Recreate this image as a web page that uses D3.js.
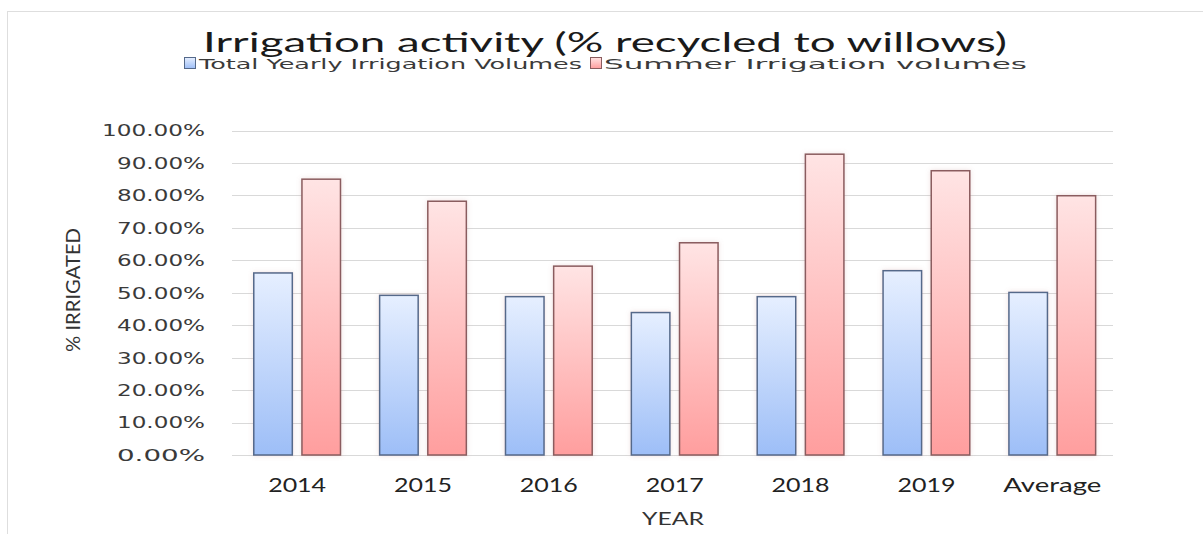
<!DOCTYPE html>
<html>
<head>
<meta charset="utf-8">
<script src="https://cdn.jsdelivr.net/npm/d3@7/dist/d3.min.js"></script>
<style>
  html, body { margin: 0; padding: 0; background: #ffffff; }
  svg { display: block; }
</style>
</head>
<body>
<svg id="chart" width="1203" height="534"></svg>
<script>
// Irrigation activity: share of volumes recycled to willows, per year
const categories = ["2014", "2015", "2016", "2017", "2018", "2019", "Average"];
const seriesNames = ["Total Yearly Irrigation Volumes", "Summer Irrigation volumes"];
const totalYearly = [0.561, 0.492, 0.488, 0.439, 0.488, 0.568, 0.501];
const summer = [0.850, 0.782, 0.582, 0.654, 0.927, 0.876, 0.799];
const yTicks = [0, 0.1, 0.2, 0.3, 0.4, 0.5, 0.6, 0.7, 0.8, 0.9, 1.0];

const seriesValues = [totalYearly, summer];
const svg = d3.select("#chart");

const plot = { left: 232, right: 1113, top: 130.5, bottom: 455 };

const x0 = d3.scaleBand().domain(categories).range([plot.left, plot.right]);
const C = x0.bandwidth();
const x1 = d3.scaleBand().domain(seriesNames)
  .range([0.173 * C, 0.862 * C]).paddingInner(0.2);
const y = d3.scaleLinear().domain([0, 1]).range([plot.bottom, plot.top]);

// gradients and soft glow
const defs = svg.append("defs");
const grads = [
  { id: "gBlue", top: "#e6efff", bottom: "#9dbef7", stroke: "#55698a" },
  { id: "gRed", top: "#ffe4e4", bottom: "#ff9e9e", stroke: "#8a5c5e" }
];
grads.forEach(g => {
  const lg = defs.append("linearGradient").attr("id", g.id)
    .attr("x1", 0).attr("y1", 0).attr("x2", 0).attr("y2", 1);
  lg.append("stop").attr("offset", "0%").attr("stop-color", g.top);
  lg.append("stop").attr("offset", "100%").attr("stop-color", g.bottom);
});
const glow = defs.append("filter").attr("id", "glow")
  .attr("x", "-30%").attr("y", "-10%").attr("width", "160%").attr("height", "120%");
glow.append("feGaussianBlur").attr("in", "SourceAlpha").attr("stdDeviation", 2.5).attr("result", "b");
glow.append("feFlood").attr("flood-color", "#c08080").attr("flood-opacity", 0.25);
glow.append("feComposite").attr("in2", "b").attr("operator", "in").attr("result", "s");
const mg = glow.append("feMerge");
mg.append("feMergeNode").attr("in", "s");
mg.append("feMergeNode").attr("in", "SourceGraphic");

// outer frame
svg.append("rect").attr("x", 7.5).attr("y", 11.5).attr("width", 1300).attr("height", 600)
  .attr("fill", "none").attr("stroke", "#dedede").attr("stroke-width", 1);

// title
svg.append("text")
  .attr("x", 203).attr("y", 52)
  .attr("textLength", 804).attr("lengthAdjust", "spacingAndGlyphs")
  .attr("font-family", "Lato, 'Open Sans', sans-serif")
  .attr("font-weight", 400)
  .attr("font-size", 27).attr("fill", "#1a1a1a")
  .text("Irrigation  activity (% recycled  to willows)");

// legend
const legendItems = [
  { name: seriesNames[0], sx: 184, tx: 199, len: 383, g: grads[0] },
  { name: seriesNames[1], sx: 590, tx: 604, len: 423, g: grads[1] }
];
legendItems.forEach(it => {
  svg.append("rect").attr("x", it.sx + 0.5).attr("y", 57.5).attr("width", 11).attr("height", 11)
    .attr("fill", `url(#${it.g.id})`).attr("stroke", it.g.stroke).attr("stroke-width", 1);
  svg.append("text").attr("x", it.tx).attr("y", 69)
    .attr("textLength", it.len).attr("lengthAdjust", "spacingAndGlyphs")
    .attr("font-family", "'DejaVu Sans', Verdana, sans-serif")
    .attr("font-size", 14).attr("fill", "#3a3a3a")
    .text(it.name);
});

// gridlines
svg.append("g").selectAll("line").data(yTicks).join("line")
  .attr("x1", plot.left).attr("x2", plot.right)
  .attr("y1", d => Math.round(y(d)) + 0.5).attr("y2", d => Math.round(y(d)) + 0.5)
  .attr("stroke", "#d9d9d9").attr("stroke-width", 1);

// y axis labels
const fmt = d3.format(".2%");
const yAxis = d3.axisLeft(y).tickValues(yTicks).tickFormat(fmt).tickSize(0).tickPadding(0);
const yg = svg.append("g").attr("transform", `translate(205,0)`).call(yAxis);
yg.select(".domain").remove();
yg.selectAll("text")
  .attr("font-family", "'DejaVu Sans', Verdana, sans-serif")
  .attr("font-size", 15).attr("fill", "#3a3a3a")
  .attr("textLength", d => (d >= 1 ? 103 : 88)).attr("lengthAdjust", "spacingAndGlyphs")
  .attr("dy", "0.36em");

// y axis title
svg.append("text")
  .attr("transform", `translate(80,290) rotate(-90)`)
  .attr("text-anchor", "middle")
  .attr("textLength", 124).attr("lengthAdjust", "spacingAndGlyphs")
  .attr("font-family", "Lato, 'Open Sans', sans-serif")
  .attr("font-size", 19).attr("fill", "#333")
  .text("% IRRIGATED");

// bars
const rows = categories.map((c, i) => ({ cat: c, vals: seriesNames.map((s, k) => ({ s, k, v: seriesValues[k][i] })) }));
const cg = svg.append("g").selectAll("g").data(rows).join("g")
  .attr("transform", d => `translate(${x0(d.cat)},0)`);
cg.selectAll("rect").data(d => d.vals).join("rect")
  .attr("x", d => x1(d.s))
  .attr("y", d => y(d.v))
  .attr("width", x1.bandwidth())
  .attr("height", d => y(0) - y(d.v))
  .attr("fill", d => `url(#${grads[d.k].id})`)
  .attr("stroke", d => grads[d.k].stroke)
  .attr("stroke-width", 1.5)
  .attr("filter", "url(#glow)");

// x axis labels
const xAxis = d3.axisBottom(x0).tickSize(0).tickPadding(0);
const xg = svg.append("g").attr("transform", `translate(${(0.173 + 0.862) / 2 * C - C / 2},478)`).call(xAxis);
xg.select(".domain").remove();
xg.selectAll("text")
  .attr("font-family", "Lato, 'Open Sans', sans-serif")
  .attr("font-size", 19).attr("fill", "#222")
  .attr("textLength", d => (d === "Average" ? 98 : 58)).attr("lengthAdjust", "spacingAndGlyphs")
  .attr("dy", "0.71em");

// x axis title
svg.append("text")
  .attr("x", 673).attr("y", 525).attr("text-anchor", "middle")
  .attr("textLength", 62).attr("lengthAdjust", "spacingAndGlyphs")
  .attr("font-family", "Lato, 'Open Sans', sans-serif")
  .attr("font-size", 18).attr("fill", "#333")
  .text("YEAR");
</script>
</body>
</html>
